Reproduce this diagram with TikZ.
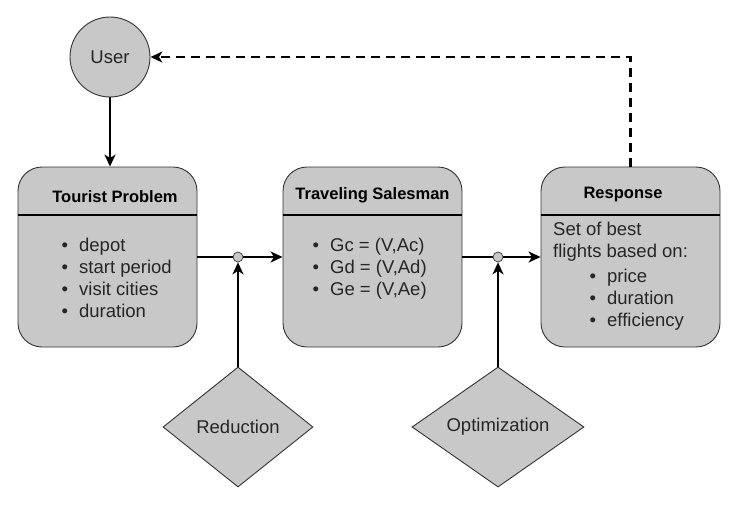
\documentclass[tikz,border=0pt]{standalone}
\usepackage{fontspec}
\setmainfont{Liberation Sans}
\usetikzlibrary{shapes.geometric,arrows.meta}
\definecolor{boxgray}{RGB}{200,200,200}
\tikzset{
  base/.style={draw=black!80, fill=boxgray, line width=0.9pt},
  card/.style={base, rounded corners=24pt, minimum width=179pt, minimum height=180pt, inner sep=0pt},
  ttl/.style={font=\fontsize{16.5}{20}\selectfont\bfseries, inner sep=0pt},
  body/.style={font=\fontsize{18.5}{22}\selectfont, inner sep=0pt, align=left, text=black!85},
  junc/.style={base, circle, minimum size=10pt, inner sep=0pt, line width=0.7pt},
  dia/.style={base, diamond, minimum height=120pt, inner sep=0pt, font=\fontsize{18.5}{22}\selectfont, text=black!85},
  conn/.style={line width=2.4pt},
  arr/.style={conn, -{Stealth[length=12pt,width=11pt,inset=3.5pt]}},
}
\newcommand{\bul}{\textbullet\hspace{11pt}}
\begin{document}
\begin{tikzpicture}[x=1pt,y=-1pt]
\useasboundingbox (0,0) rectangle (743,517);
% User
\node[base, circle, minimum size=80pt, inner sep=0pt, font=\fontsize{18.5}{22}\selectfont, text=black!85] (user) at (110,57) {User};
% cards
\node[card] (tp) at (107.5,257) {};
\node[card] (ts) at (372.5,257) {};
\node[card] (rs) at (630.5,257) {};
\foreach \n in {tp,ts,rs}{
  \draw[line width=1.1pt] (\n.north west |- 0,215) -- (\n.north east |- 0,215);
}
\node[ttl] (tpt) at (115,197) {Tourist Problem};
\node[ttl] (tst) at (372.5,195) {Traveling Salesman};
\node[ttl] (rst) at (623,195) {Response};
\node[body, anchor=west] (tpl) at (61.5,278) {\bul depot\\\bul start period\\\bul visit cities\\\bul duration};
\node[body, anchor=west] (tsl) at (312.5,268.5) {\bul Gc = (V,Ac)\\\bul Gd = (V,Ad)\\\bul Ge = (V,Ae)};
\node[body, anchor=west] (rsl) at (553,276) {Set of best\\flights based on:\\[3pt]\hspace{36.5pt}\bul price\\\hspace{36.5pt}\bul duration\\\hspace{36.5pt}\bul efficiency};
% diamonds
\node[dia, minimum width=150pt] (red) at (238,427) {Reduction};
\node[dia, minimum width=172pt] (opt) at (498,427) {Optimization};
% junctions
\coordinate (j1c) at (238,257);
\coordinate (j2c) at (498,257);
\draw[conn] (tp.east) -- (j1c);
\draw[conn] (ts.east) -- (j2c);
\node[junc] (j1) at (j1c) {};
\node[junc] (j2) at (j2c) {};
\draw[arr] (j1.east) -- (ts.west);
\draw[arr] (j2.east) -- (rs.west);
\draw[arr] (red.north) -- (j1.south);
\draw[arr] (opt.north) -- (j2.south);
% user to tourist
\draw[arr] (user.south) -- (user.south |- tp.north);
% dashed feedback
\draw[arr, dash pattern=on 9pt off 6pt] (rs.north) -- (rs.north |- user.east) -- (user.east);
\end{tikzpicture}
\end{document}
